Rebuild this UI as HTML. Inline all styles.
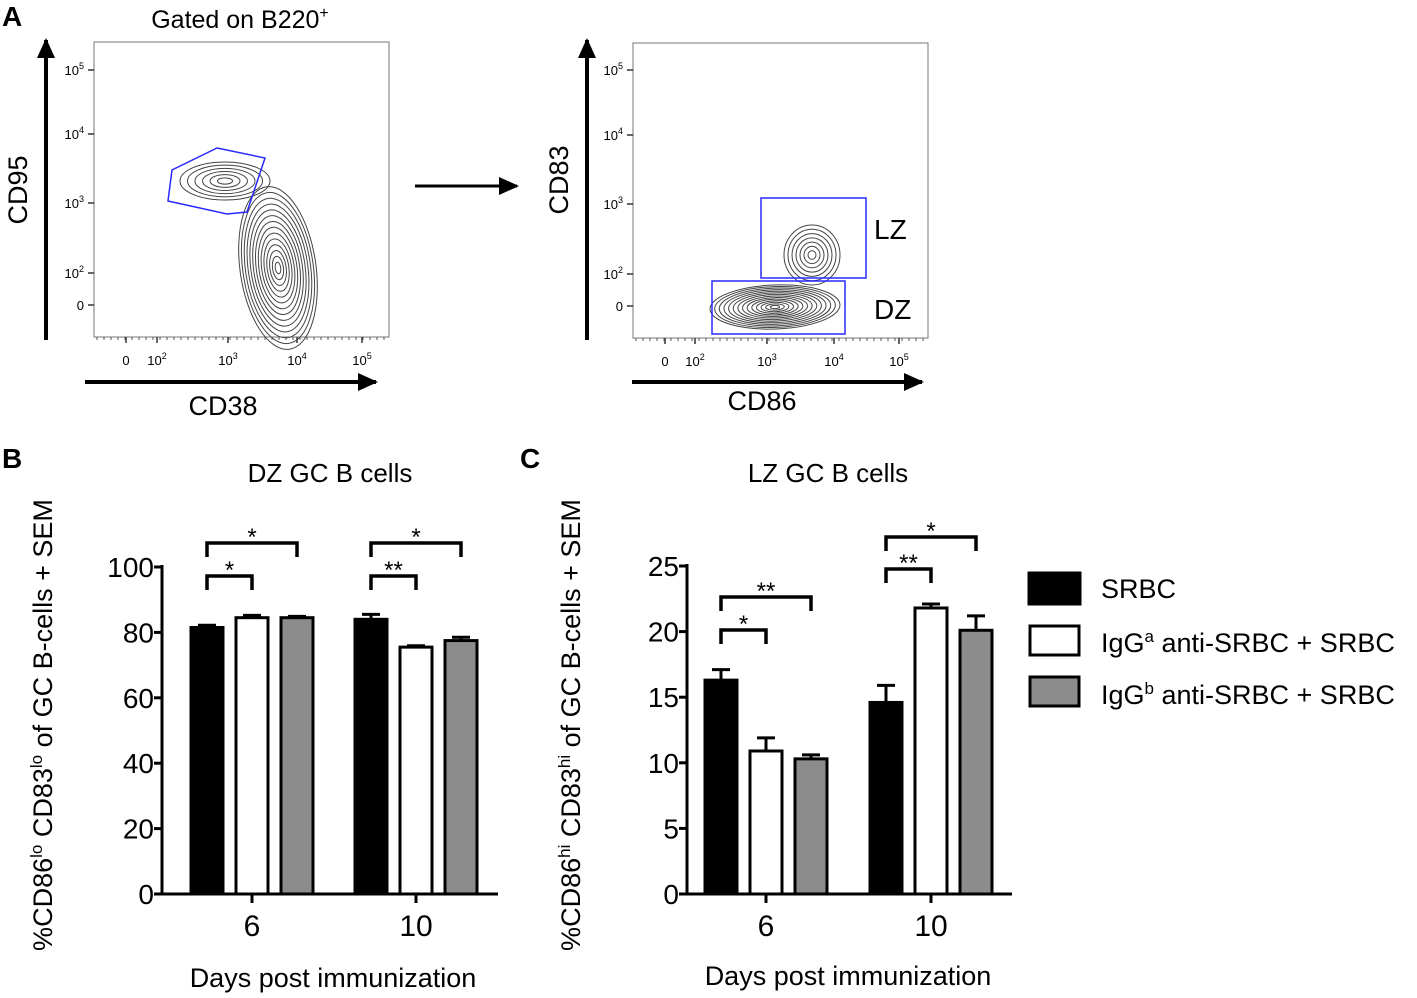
<!DOCTYPE html>
<html><head><meta charset="utf-8">
<style>
body{margin:0;background:#fff}
svg{display:block;font-family:"Liberation Sans",Arial,sans-serif}
</style></head>
<body>
<svg id="fig" width="1417" height="998" viewBox="0 0 1417 998" xmlns="http://www.w3.org/2000/svg">
<defs>
<marker id="ah" markerWidth="20" markerHeight="18" refX="18" refY="9" orient="auto" markerUnits="userSpaceOnUse" viewBox="0 0 20 18"><path d="M0,0 L20,9 L0,18 z" fill="#000"/></marker>
</defs>
<text x="2" y="26" font-size="28" font-weight="bold">A</text>
<text x="240" y="28" font-size="25" text-anchor="middle">Gated on B220<tspan dy="-10" font-size="16">+</tspan></text>
<g id="flow1">
<rect x="94" y="42" width="295" height="295" fill="none" stroke="#777" stroke-width="1"/>
</g>
<g id="flow2">
<rect x="633" y="43" width="295" height="295" fill="none" stroke="#777" stroke-width="1"/>
</g>
<line x1="46" y1="340" x2="46" y2="40" stroke="#000" stroke-width="4" marker-end="url(#ah)"/>
<line x1="85" y1="382" x2="376" y2="382" stroke="#000" stroke-width="4" marker-end="url(#ah)"/>
<text transform="translate(27,190) rotate(-90)" font-size="27" text-anchor="middle">CD95</text>
<text x="223" y="415" font-size="27" text-anchor="middle">CD38</text>
<line x1="415" y1="186" x2="517" y2="186" stroke="#000" stroke-width="3" marker-end="url(#ah)"/>
<line x1="587" y1="340" x2="587" y2="40" stroke="#000" stroke-width="4" marker-end="url(#ah)"/>
<line x1="632" y1="382" x2="922" y2="382" stroke="#000" stroke-width="4" marker-end="url(#ah)"/>
<text transform="translate(568,180) rotate(-90)" font-size="27" text-anchor="middle">CD83</text>
<text x="762" y="410" font-size="27" text-anchor="middle">CD86</text>
<polygon points="217,148 265,158 247,212 227,214 168,201 172,170" fill="none" stroke="#2a2aff" stroke-width="1.5"/>
<rect x="761" y="198" width="105" height="80" fill="none" stroke="#2a2aff" stroke-width="1.5"/>
<rect x="712" y="281" width="133" height="53" fill="none" stroke="#2a2aff" stroke-width="1.5"/>
<text x="874" y="239" font-size="28">LZ</text>
<text x="874" y="319" font-size="28">DZ</text>

<text x="2" y="468" font-size="28" font-weight="bold">B</text>
<text x="330" y="482" font-size="26" text-anchor="middle">DZ GC B cells</text>
<text transform="translate(52,725) rotate(-90)" font-size="27" text-anchor="middle">%CD86<tspan dy="-10" font-size="17">lo</tspan><tspan dy="10"> CD83</tspan><tspan dy="-10" font-size="17">lo</tspan><tspan dy="10"> of GC B-cells + SEM</tspan></text>
<text x="333" y="987" font-size="27" text-anchor="middle">Days post immunization</text>
<g id="chartB"></g>

<text x="520" y="468" font-size="28" font-weight="bold">C</text>
<text x="828" y="482" font-size="26" text-anchor="middle">LZ GC B cells</text>
<text transform="translate(580,725) rotate(-90)" font-size="27" text-anchor="middle">%CD86<tspan dy="-10" font-size="17">hi</tspan><tspan dy="10"> CD83</tspan><tspan dy="-10" font-size="17">hi</tspan><tspan dy="10"> of GC B-cells + SEM</tspan></text>
<text x="848" y="985" font-size="27" text-anchor="middle">Days post immunization</text>
<g id="chartC"></g>

<g>
<rect x="1029" y="573" width="51" height="31" fill="#000" stroke="#000" stroke-width="3"/>
<text x="1101" y="598" font-size="27">SRBC</text>
<rect x="1030" y="626" width="49" height="29" fill="#fff" stroke="#000" stroke-width="3"/>
<text x="1101" y="652" font-size="27">IgG<tspan dy="-10" font-size="17">a</tspan><tspan dy="10"> anti-SRBC + SRBC</tspan></text>
<rect x="1030" y="677" width="49" height="29" fill="#8c8c8c" stroke="#000" stroke-width="3"/>
<text x="1101" y="704" font-size="27">IgG<tspan dy="-10" font-size="17">b</tspan><tspan dy="10"> anti-SRBC + SRBC</tspan></text>
</g>
</svg>
<script>
const dzCategories = ["6", "10"];
const dzSrbc = [81.5, 84];
const dzIgga = [84.5, 75.5];
const dzIggb = [84.5, 77.5];
const dzSrbcErr = [0.7, 1.5];
const dzIggaErr = [0.7, 0.4];
const dzIggbErr = [0.4, 1.0];
const dzTicks = [0, 20, 40, 60, 80, 100];

const lzCategories = ["6", "10"];
const lzSrbc = [16.3, 14.6];
const lzIgga = [10.9, 21.8];
const lzIggb = [10.3, 20.1];
const lzSrbcErr = [0.8, 1.3];
const lzIggaErr = [1.0, 0.3];
const lzIggbErr = [0.3, 1.1];
const lzTicks = [0, 5, 10, 15, 20, 25];

const NS = "http://www.w3.org/2000/svg";
function mk(parent, tag, attrs) {
  const e = document.createElementNS(NS, tag);
  for (const k in attrs) e.setAttribute(k, attrs[k]);
  parent.appendChild(e);
  return e;
}
const fills = ["#000", "#fff", "#8c8c8c"];
const seriesNames = ["srbc", "igga", "iggb"];

function drawChart(gid, cfg) {
  const g = document.getElementById(gid);
  const y = v => cfg.y0 - (v / cfg.ymax) * (cfg.y0 - cfg.yTop);
  const groupX = i => cfg.gx[0] + i * (cfg.gx[1] - cfg.gx[0]);
  let ax = mk(g, "line", {x1: cfg.ax, y1: cfg.yTop - 2, x2: cfg.ax, y2: cfg.y0, stroke: "#000", "stroke-width": 3});
  
  
  let xa = mk(g, "line", {x1: cfg.ax, y1: cfg.y0, x2: cfg.xEnd, y2: cfg.y0, stroke: "#000", "stroke-width": 3});
  
  
  cfg.ticks.forEach(t => {
    const tl = mk(g, "line", {x1: cfg.ax - 8, y1: y(t), x2: cfg.ax, y2: y(t), stroke: "#000", "stroke-width": 3});
    
    
    const tx = mk(g, "text", {x: cfg.ax - 8, y: y(t) + 10, "font-size": 28, "text-anchor": "end"});
    tx.textContent = t;
    
    
  });
  cfg.cats.forEach((c, i) => {
    const cx = groupX(i);
    const tk = mk(g, "line", {x1: cx, y1: cfg.y0, x2: cx, y2: cfg.y0 + 9, stroke: "#000", "stroke-width": 3});
    
    
    const tx = mk(g, "text", {x: cx, y: cfg.y0 + 42, "font-size": 30, "text-anchor": "middle"});
    tx.textContent = c;
    
    
    cfg.series.forEach((s, k) => {
      const bx = cx + (k - 1) * cfg.step;
      const left = bx - cfg.bw / 2;
      const top = y(s[i]);
      const et = y(s[i] + cfg.errs[k][i]);
      const el = mk(g, "line", {x1: bx, y1: top, x2: bx, y2: et, stroke: "#000", "stroke-width": 3});
      
      
      const ec = mk(g, "line", {x1: bx - 9, y1: et, x2: bx + 9, y2: et, stroke: "#000", "stroke-width": 3});
      
      
      const r = mk(g, "rect", {x: left, y: top, width: cfg.bw, height: cfg.y0 - top, fill: fills[k], stroke: "#000", "stroke-width": 3});
      
      
    });
  });
  cfg.sig.forEach(sg => {
    const cx = groupX(sg[0]);
    const x1 = cx - cfg.step, x2 = cx + (sg[1] - 1) * cfg.step;
    const by = sg[2];
    const p = mk(g, "path", {d: `M${x1},${by + 14} V${by} H${x2} V${by + 14}`, fill: "none", stroke: "#000", "stroke-width": 3.5});
    
    
    const t = mk(g, "text", {x: (x1 + x2) / 2, y: by + 2, "font-size": 24, "text-anchor": "middle"});
    t.textContent = sg[3];
    
    
  });
}

drawChart("chartB", {y0: 894, yTop: 567, ymax: 100, ax: 162, xEnd: 498, gx: [252, 416], step: 45, bw: 32,
  cats: dzCategories, series: [dzSrbc, dzIgga, dzIggb], errs: [dzSrbcErr, dzIggaErr, dzIggbErr], ticks: dzTicks,
  sig: [[0, 1, 576, "*"], [0, 2, 543, "*"], [1, 1, 576, "**"], [1, 2, 543, "*"]]});
drawChart("chartC", {y0: 894, yTop: 566, ymax: 25, ax: 687, xEnd: 1012, gx: [766, 931], step: 45, bw: 32,
  cats: lzCategories, series: [lzSrbc, lzIgga, lzIggb], errs: [lzSrbcErr, lzIggaErr, lzIggbErr], ticks: lzTicks,
  sig: [[0, 1, 630, "*"], [0, 2, 597, "**"], [1, 1, 569, "**"], [1, 2, 537, "*"]]});

function flowAxes(gid, x0, y0, yt, xt) {
  const g = document.getElementById(gid);
  const ylabels = ["10^5", "10^4", "10^3", "10^2", "0"];
  yt.forEach((yy, i) => {
    const l = mk(g, "line", {x1: x0 - 6, y1: yy, x2: x0, y2: yy, stroke: "#333", "stroke-width": 1.5});
    
    
    const t = mk(g, "text", {x: x0 - 10, y: yy + 5, "font-size": 13, "text-anchor": "end"});
    if (ylabels[i] === "0") t.textContent = "0";
    else { t.textContent = "10"; const s = mk(t, "tspan", {dy: -6, "font-size": 9}); s.textContent = ylabels[i].slice(3); }
    
    
  });
  const xlabels = ["0", "10^2", "10^3", "10^4", "10^5"];
  xt.forEach((xx, i) => {
    const l = mk(g, "line", {x1: xx, y1: y0, x2: xx, y2: y0 + 6, stroke: "#333", "stroke-width": 1.5});
    
    
    const t = mk(g, "text", {x: xx, y: y0 + 28, "font-size": 13, "text-anchor": "middle"});
    if (xlabels[i] === "0") t.textContent = "0";
    else { t.textContent = "10"; const s = mk(t, "tspan", {dy: -6, "font-size": 9}); s.textContent = xlabels[i].slice(3); }
    
    
  });
  for (let xx = x0 + 3; xx < x0 + 295; xx += 7) {
    const l = mk(g, "line", {x1: xx, y1: y0, x2: xx, y2: y0 + 3, stroke: "#555", "stroke-width": 1});
    
    
  }
}
flowAxes("flow1", 94, 337, [70, 134, 203, 273, 305], [126, 157, 228, 297, 362]);
flowAxes("flow2", 633, 338, [70, 135, 204, 274, 306], [665, 695, 767, 834, 899]);

function contours(gid, cx, cy, rx, ry, n, rot, name) {
  const g = document.getElementById(gid);
  for (let k = 1; k <= n; k++) {
    const f = k / n;
    const e = mk(g, "ellipse", {cx: cx, cy: cy, rx: rx * f, ry: ry * f, fill: "none", stroke: "#444", "stroke-width": 1,
      transform: `rotate(${rot} ${cx} ${cy})`});
    
    
  }
}
contours("flow1", 225, 181, 45, 19, 6, 0, 'contour-gc-cluster');
contours("flow1", 278, 268, 38, 82, 14, -8, 'contour-main-cluster');
contours("flow2", 775, 307, 65, 22, 14, -2, 'contour-dz-cluster');
contours("flow2", 812, 255, 28, 30, 7, 0, 'contour-lz-cluster');
</script>
</body></html>
